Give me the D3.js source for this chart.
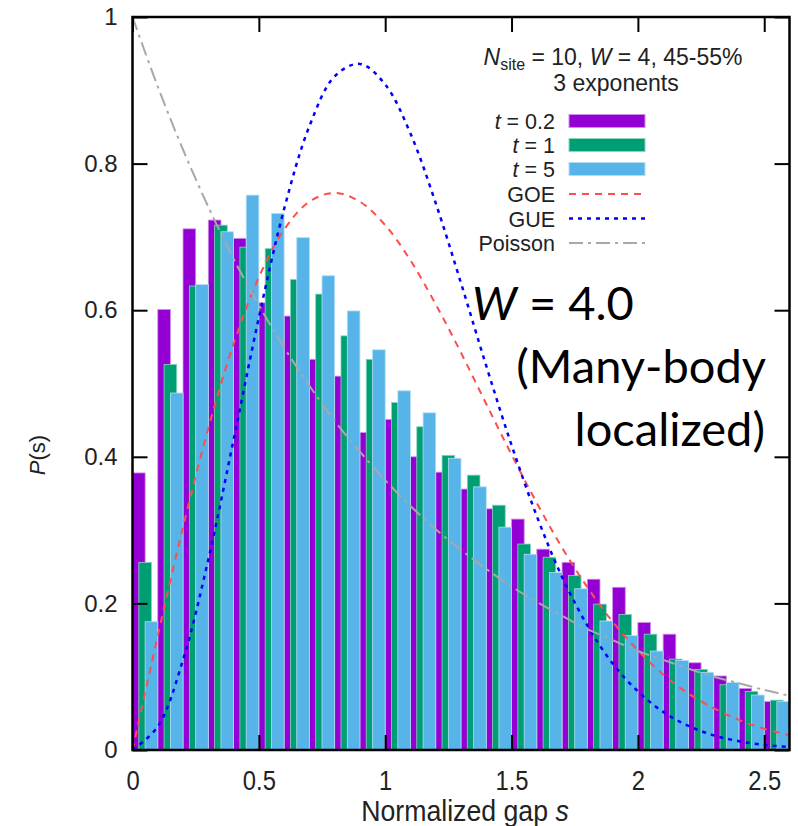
<!DOCTYPE html>
<html>
<head>
<meta charset="utf-8">
<script src="https://cdn.jsdelivr.net/npm/d3@7"></script>
<style>
  body { margin: 0; background: #fff; }
  svg { display: block; }
  .tick line { stroke: #000; stroke-width: 2; }
</style>
</head>
<body>
<div id="chart"></div>
<script>

// bin left edges (normalized gap s), bin width 0.1
let bins = [0.0, 0.1, 0.2, 0.3, 0.4, 0.5, 0.6, 0.7, 0.8, 0.9, 1.0, 1.1, 1.2,
	1.3, 1.4, 1.5, 1.6, 1.7, 1.8, 1.9, 2.0, 2.1, 2.2, 2.3, 2.4, 2.5];

// histogram heights
let t02 = [0.378, 0.601, 0.711, 0.723, 0.698, 0.610, 0.592, 0.533, 0.510, 0.433, 0.451, 0.400, 0.379,
	0.356, 0.329, 0.315, 0.274, 0.256, 0.233, 0.222, 0.174, 0.158, 0.119, 0.101, 0.084, 0.066];
let t1 = [0.256, 0.526, 0.633, 0.716, 0.686, 0.684, 0.642, 0.622, 0.565, 0.533, 0.474, 0.441, 0.402,
	0.375, 0.334, 0.281, 0.263, 0.238, 0.199, 0.185, 0.158, 0.124, 0.110, 0.089, 0.080, 0.068];
let t5 = [0.175, 0.487, 0.635, 0.707, 0.757, 0.732, 0.699, 0.647, 0.599, 0.546, 0.490, 0.460, 0.398,
	0.359, 0.304, 0.267, 0.242, 0.220, 0.176, 0.156, 0.135, 0.122, 0.106, 0.092, 0.075, 0.066];

// reference curves, sampled along s
let sGrid = [0, 0.1, 0.2, 0.3, 0.4, 0.5, 0.6, 0.7, 0.8, 0.9, 1.0, 1.1, 1.2, 1.3,
	1.4, 1.5, 1.6, 1.7, 1.8, 1.9, 2.0, 2.1, 2.2, 2.3, 2.4, 2.5, 2.6];
let goe = [0, 0.156, 0.304, 0.439, 0.554, 0.645, 0.710, 0.748, 0.760, 0.748, 0.716, 0.668, 0.608, 0.542,
	0.472, 0.403, 0.337, 0.276, 0.222, 0.175, 0.136, 0.103, 0.077, 0.057, 0.041, 0.029, 0.020];
let gue = [0, 0.032, 0.123, 0.260, 0.423, 0.590, 0.738, 0.851, 0.919, 0.936, 0.908, 0.841, 0.746, 0.637,
	0.524, 0.416, 0.319, 0.236, 0.170, 0.118, 0.080, 0.052, 0.033, 0.020, 0.012, 0.007, 0.004];
let poisson = [1, 0.905, 0.819, 0.741, 0.670, 0.607, 0.549, 0.497, 0.449, 0.407, 0.368, 0.333, 0.301, 0.273,
	0.247, 0.223, 0.202, 0.183, 0.165, 0.150, 0.135, 0.123, 0.111, 0.100, 0.091, 0.082, 0.074];

let xTicks = [0, 0.5, 1, 1.5, 2, 2.5];
let yTicks = [0, 0.2, 0.4, 0.6, 0.8, 1];

let series = [
	{ name: "0.2", values: t02, color: "#9400d3", off: 0 },
	{ name: "1", values: t1, color: "#009e73", off: 0.025 },
	{ name: "5", values: t5, color: "#56b4e9", off: 0.05 }
];

let curves = [
	{ name: "GOE", values: goe, color: "#ff4d4d", dash: "7,6", width: 2 },
	{ name: "GUE", values: gue, color: "#0000ff", dash: "4,5", width: 2.5 },
	{ name: "Poisson", values: poisson, color: "#a8a8a8", dash: "14,5,3,5", width: 2 }
];

let width = 798, height = 826;
let plot = { left: 132.5, right: 789.5, top: 17, bottom: 750 };

let svg = d3.select("#chart")
	.append("svg")
	.attr("width", width)
	.attr("height", height)
	.style("font-family", "'Liberation Sans', Arial, sans-serif");

let x = d3.scaleLinear().domain([0, 2.6]).range([plot.left, plot.right]);
let y = d3.scaleLinear().domain([0, 1]).range([plot.bottom, plot.top]);

svg.append("clipPath").attr("id", "clip")
	.append("rect")
	.attr("x", plot.left).attr("y", plot.top)
	.attr("width", plot.right - plot.left).attr("height", plot.bottom - plot.top);

// bars, purple first then green and blue on top, each shifted a bit
let barW = 0.05;
series.forEach(function (s) {
	svg.append("g")
		.attr("clip-path", "url(#clip)")
		.selectAll("rect")
		.data(s.values)
		.enter()
		.append("rect")
		.attr("x", function (d, i) { return x(bins[i] + s.off); })
		.attr("width", x(barW) - x(0))
		.attr("y", function (d) { return y(d); })
		.attr("height", function (d) { return y(0) - y(d); })
		.attr("fill", s.color)
		.attr("stroke", d3.interpolateRgb(s.color, "#fff")(0.55))
		.attr("stroke-width", 0.8);
});

// GOE / GUE / Poisson curves
let line = d3.line()
	.x(function (d, i) { return x(sGrid[i]); })
	.y(function (d) { return y(d); })
	.curve(d3.curveCatmullRom);

curves.forEach(function (c) {
	svg.append("path")
		.attr("clip-path", "url(#clip)")
		.attr("d", line(c.values))
		.attr("fill", "none")
		.attr("stroke", c.color)
		.attr("stroke-width", c.width)
		.attr("stroke-dasharray", c.dash);
});

// axes with inward ticks, mirrored on top and right
svg.append("g")
	.attr("transform", "translate(" + plot.left + ",0)")
	.call(d3.axisLeft(y).tickValues(yTicks).tickSize(-15).tickPadding(15).tickFormat(d3.format("")))
	.call(function (g) { g.select(".domain").remove(); })
	.selectAll("text")
	.style("font-size", "24px")
	.attr("fill", "#222");

svg.append("g")
	.attr("transform", "translate(" + plot.right + ",0)")
	.call(d3.axisRight(y).tickValues(yTicks).tickSize(-15).tickFormat(""))
	.call(function (g) { g.select(".domain").remove(); });

svg.append("g")
	.attr("transform", "translate(0," + plot.bottom + ")")
	.call(d3.axisBottom(x).tickValues(xTicks).tickSize(-15).tickPadding(20).tickFormat(d3.format("")))
	.call(function (g) { g.select(".domain").remove(); })
	.selectAll("text")
	.style("font-size", "28px")
	.attr("fill", "#222")
	.attr("transform", "scale(0.85,1)");

svg.append("g")
	.attr("transform", "translate(0," + plot.top + ")")
	.call(d3.axisTop(x).tickValues(xTicks).tickSize(-15).tickFormat(""))
	.call(function (g) { g.select(".domain").remove(); });

// frame
svg.append("rect")
	.attr("x", plot.left).attr("y", plot.top)
	.attr("width", plot.right - plot.left).attr("height", plot.bottom - plot.top)
	.attr("fill", "none")
	.attr("stroke", "#000")
	.attr("stroke-width", 2.5);

// axis titles
svg.append("text")
	.attr("transform", "translate(465,821) scale(0.92,1)")
	.attr("text-anchor", "middle")
	.style("font-size", "29px")
	.attr("fill", "#222")
	.html("Normalized gap <tspan font-style='italic'>s</tspan>");

svg.append("text")
	.attr("transform", "translate(45,455) rotate(-90)")
	.attr("text-anchor", "middle")
	.style("font-size", "22px")
	.attr("fill", "#222")
	.html("<tspan font-style='italic'>P</tspan>(s)");

// legend header
svg.append("text")
	.attr("x", 613).attr("y", 65)
	.attr("text-anchor", "middle")
	.style("font-size", "23px")
	.attr("fill", "#222")
	.html("<tspan font-style='italic'>N</tspan><tspan font-size='16px' dy='5'>site</tspan>"
		+ "<tspan dy='-5'> = 10, </tspan><tspan font-style='italic'>W</tspan> = 4, 45-55%");

svg.append("text")
	.attr("x", 616).attr("y", 91)
	.attr("text-anchor", "middle")
	.style("font-size", "23px")
	.attr("fill", "#222")
	.text("3 exponents");

let legendRows = [121, 145, 169, 194, 218.5, 243];
let lg = svg.append("g");

series.forEach(function (s, i) {
	lg.append("text")
		.attr("x", 555).attr("y", legendRows[i] + 8)
		.attr("text-anchor", "end")
		.style("font-size", "21.5px")
		.attr("fill", "#222")
		.html("<tspan font-style='italic'>t</tspan> = " + s.name);
	lg.append("rect")
		.attr("x", 569).attr("y", legendRows[i] - 6.5)
		.attr("width", 76).attr("height", 13)
		.attr("fill", s.color)
		.attr("stroke", d3.interpolateRgb(s.color, "#fff")(0.55))
		.attr("stroke-width", 1);
});

curves.forEach(function (c, i) {
	let ry = legendRows[i + 3];
	lg.append("text")
		.attr("x", 555).attr("y", ry + 8)
		.attr("text-anchor", "end")
		.style("font-size", "21.5px")
		.attr("fill", "#222")
		.text(c.name);
	lg.append("line")
		.attr("x1", 569).attr("x2", 645)
		.attr("y1", ry).attr("y2", ry)
		.attr("stroke", c.color)
		.attr("stroke-width", c.width)
		.attr("stroke-dasharray", c.dash);
});

// big annotation
let note = svg.append("g")
	.style("font-family", "Lato, 'Open Sans', sans-serif")
	.style("font-size", "47px")
	.attr("fill", "#000");

note.append("text")
	.attr("x", 472).attr("y", 320)
	.html("<tspan font-style='italic'>W</tspan> = 4.0");
note.append("text")
	.attr("x", 766).attr("y", 383)
	.attr("text-anchor", "end")
	.text("(Many-body");
note.append("text")
	.attr("x", 765).attr("y", 446)
	.attr("text-anchor", "end")
	.text("localized)");

</script>
</body>
</html>
